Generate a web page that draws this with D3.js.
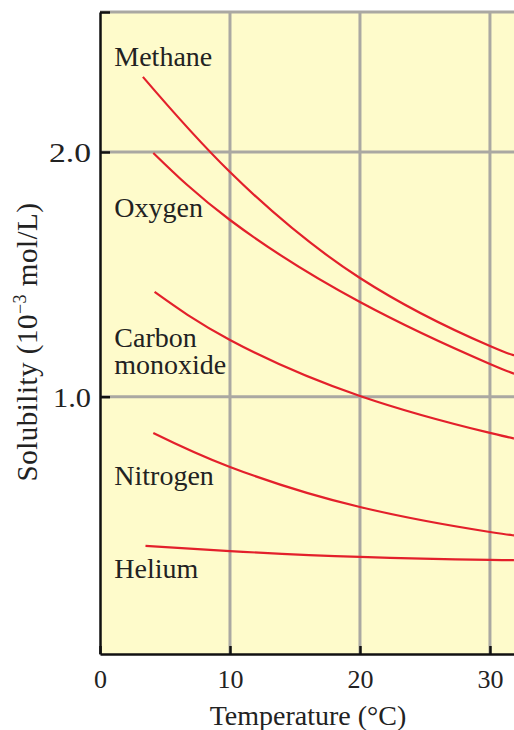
<!DOCTYPE html>
<html>
<head>
<meta charset="utf-8">
<script src="https://cdn.jsdelivr.net/npm/d3@7"></script>
<style>
  body { margin: 0; background: #fff; }
  text { font-family: "Liberation Serif", "DejaVu Serif", serif; fill: #222; }
</style>
</head>
<body>
<div id="graph"></div>
<script>
const width = 514;
const height = 730;

// temperatures (°C) where each curve was read
const methane_t = [3.3, 10, 20, 30, 31.9];
const methane_s = [2.307, 1.918, 1.485, 1.207, 1.175];
const oxygen_t = [4.1, 10, 20, 30, 31.9];
const oxygen_s = [1.996, 1.722, 1.387, 1.134, 1.097];
const co_t = [4.2, 10, 20, 30, 31.9];
const co_s = [1.428, 1.232, 1.003, 0.852, 0.831];
const nitrogen_t = [4.1, 10, 20, 30, 31.9];
const nitrogen_s = [0.852, 0.713, 0.549, 0.447, 0.435];
const helium_t = [3.5, 10, 20, 30, 31.9];
const helium_s = [0.390, 0.369, 0.345, 0.333, 0.333];

const x_ticks = [0, 10, 20, 30];
const y_ticks = [1.0, 2.0];
const gas_names = [["Methane"], ["Oxygen"], ["Carbon", "monoxide"], ["Nitrogen"], ["Helium"]];

const series = [
  [methane_t, methane_s],
  [oxygen_t, oxygen_s],
  [co_t, co_s],
  [nitrogen_t, nitrogen_s],
  [helium_t, helium_s]
];

// where the names sit (data units)
const label_t = 1.1;
const label_s = [2.351, 1.734, 1.203, 0.639, 0.259];
const line_step = 0.11;

const x = d3.scaleLinear().domain([0, 31.85]).range([100, 514]);
const y = d3.scaleLinear().domain([-0.0515, 2.572]).range([654, 12]);

const svg = d3.select('#graph')
  .append('svg')
  .attr('width', width)
  .attr('height', height);

// plot background
svg.append('rect')
  .attr('x', x(0)).attr('y', y(2.572))
  .attr('width', x(31.85) - x(0)).attr('height', y(-0.0515) - y(2.572))
  .attr('fill', '#fefbcb');

// grid
const grid_color = '#aaa8a2';
svg.selectAll('.vgrid').data(x_ticks.filter(d => d > 0)).enter()
  .append('line')
  .attr('x1', d => x(d)).attr('x2', d => x(d))
  .attr('y1', y(2.572)).attr('y2', y(-0.0515))
  .attr('stroke', grid_color).attr('stroke-width', 3);

svg.selectAll('.hgrid').data(y_ticks.concat([2.572])).enter()
  .append('line')
  .attr('x1', x(0)).attr('x2', x(31.85))
  .attr('y1', d => y(d)).attr('y2', d => y(d))
  .attr('stroke', grid_color).attr('stroke-width', 3);

// curves
const line = d3.line()
  .x(d => x(d[0]))
  .y(d => y(d[1]))
  .curve(d3.curveNatural);

for (let i = 0; i < series.length; i++) {
  let pts = series[i][0].map((t, j) => [t, series[i][1][j]]);
  svg.append('path')
    .attr('d', line(pts))
    .attr('fill', 'none')
    .attr('stroke', '#e3202b')
    .attr('stroke-width', 2.2);
}

// axes
const xAxis = d3.axisBottom(x)
  .tickValues(x_ticks)
  .tickSizeInner(-8)
  .tickSizeOuter(0)
  .tickPadding(16)
  .tickFormat(d3.format('d'));

const gx = svg.append('g')
  .attr('transform', `translate(0, ${y(-0.0515)})`)
  .call(xAxis);

const yAxis = d3.axisLeft(y)
  .tickValues(y_ticks.concat([2.572]))
  .tickSizeInner(-10)
  .tickSizeOuter(0)
  .tickPadding(9)
  .tickFormat(d => d > 2.5 ? '' : d3.format('.1f')(d));

const gy = svg.append('g')
  .attr('transform', `translate(${x(0)}, 0)`)
  .call(yAxis);

for (const g of [gx, gy]) {
  g.select('.domain').attr('stroke', '#111').attr('stroke-width', 2.5);
  g.selectAll('.tick line').attr('stroke', '#111').attr('stroke-width', 2.5);
  g.selectAll('.tick text')
    .style('font-family', '"Liberation Serif", serif')
    .style('font-size', '26px')
    .attr('fill', '#222');
}
// the y labels are set wide in the original
gy.selectAll('.tick text')
  .attr('dy', '0.35em')
  .style('font-size', '27px')
  .attr('textLength', d => d > 2.5 ? null : (d >= 2 ? 42 : 38))
  .attr('lengthAdjust', 'spacingAndGlyphs');

// gas names
for (let i = 0; i < gas_names.length; i++) {
  let t = svg.append('text')
    .attr('x', x(label_t))
    .attr('y', y(label_s[i]))
    .style('font-size', '28px');
  gas_names[i].forEach((s, k) => {
    t.append('tspan')
      .attr('x', x(label_t))
      .attr('dy', k == 0 ? 0 : y(0) - y(line_step))
      .text(s);
  });
}

// axis titles
svg.append('text')
  .attr('x', 308)
  .attr('y', 725)
  .attr('text-anchor', 'middle')
  .style('font-size', '28px')
  .text('Temperature (°C)');

const ylab = svg.append('text')
  .attr('transform', 'translate(37, 342) rotate(-90)')
  .attr('text-anchor', 'middle')
  .style('font-size', '29px')
  .style('letter-spacing', '0.5px');
ylab.append('tspan').text('Solubility (10');
ylab.append('tspan').attr('dy', -11).style('font-size', '18px').text('\u22123');
ylab.append('tspan').attr('dy', 11).text(' mol/L)');
</script>
</body>
</html>
